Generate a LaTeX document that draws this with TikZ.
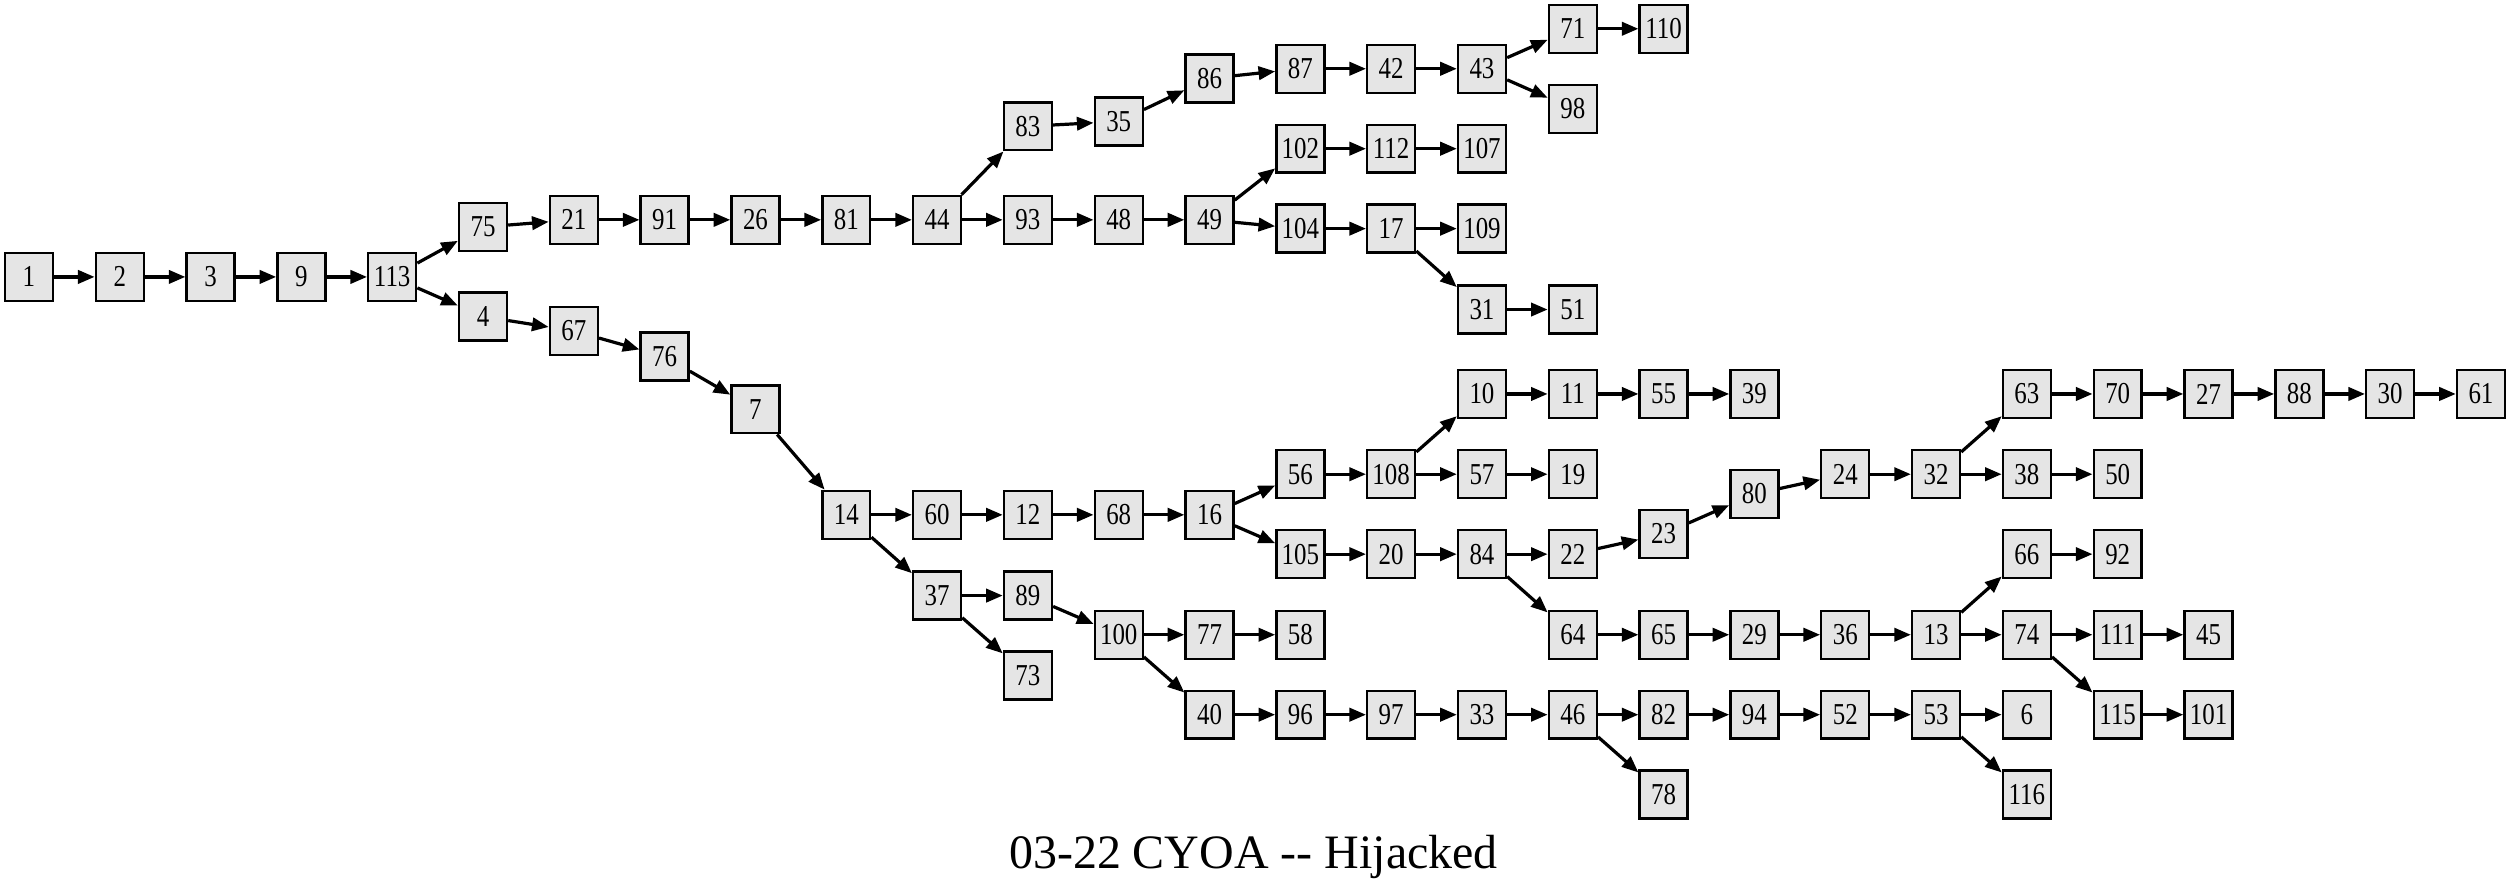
\documentclass[tikz,border=0pt]{standalone}
\usepackage{fontspec}
\setmainfont{Liberation Serif}
\newfontfamily\pagefont{Liberation Serif}[FakeStretch=0.82]
\usetikzlibrary{arrows.meta}
\definecolor{pagegray}{gray}{0.9}
\tikzset{
  cyoa/.style={draw, fill=pagegray, line width=1.5pt, minimum width=30pt, minimum height=30pt, inner sep=0pt, font=\pagefont\fontsize{19}{19}\selectfont},
  link/.style={line width=2pt, -{Triangle[length=10.4pt,width=8.3pt]}}
}
\begin{document}
\begin{tikzpicture}[x=1pt,y=1pt,yscale=-1,xscale=1]
    \useasboundingbox (0,0) rectangle (1568,556);
    
    %Pages: first chain
    \node[cyoa] (p1) at (18.1,173.2) {1};
    \node[cyoa] (p2) at (74.9,173.2) {2};
    \node[cyoa] (p3) at (131.7,173.2) {3};
    \node[cyoa] (p9) at (188.5,173.2) {9};
    \node[cyoa] (p113) at (245.3,173.2) {113};
    \node[cyoa] (p75) at (302.1,142) {75};
    \node[cyoa] (p4) at (302.1,198) {4};
    \node[cyoa] (p21) at (358.9,137.5) {21};
    \node[cyoa] (p67) at (358.9,207) {67};
    \node[cyoa] (p91) at (415.7,137.5) {91};
    \node[cyoa] (p76) at (415.7,223) {76};
    \node[cyoa] (p26) at (472.5,137.5) {26};
    \node[cyoa] (p7) at (472.5,256) {7};
    \node[cyoa] (p81) at (529.3,137.5) {81};
    \node[cyoa] (p14) at (529.3,322) {14};
    \node[cyoa] (p44) at (586.1,137.5) {44};
    \node[cyoa] (p60) at (586.1,322) {60};
    \node[cyoa] (p37) at (586.1,372.5) {37};
    %Pages: upper branch
    \node[cyoa] (p83) at (642.9,79) {83};
    \node[cyoa] (p93) at (642.9,137.5) {93};
    \node[cyoa] (p35) at (699.7,76) {35};
    \node[cyoa] (p48) at (699.7,137.5) {48};
    \node[cyoa] (p86) at (756.5,49) {86};
    \node[cyoa] (p49) at (756.5,137.5) {49};
    \node[cyoa] (p87) at (813.3,43) {87};
    \node[cyoa] (p102) at (813.3,93) {102};
    \node[cyoa] (p104) at (813.3,143) {104};
    \node[cyoa] (p42) at (870.1,43) {42};
    \node[cyoa] (p112) at (870.1,93) {112};
    \node[cyoa] (p17) at (870.1,143) {17};
    \node[cyoa] (p43) at (926.9,43) {43};
    \node[cyoa] (p107) at (926.9,93) {107};
    \node[cyoa] (p109) at (926.9,143) {109};
    \node[cyoa] (p31) at (926.9,193.6) {31};
    \node[cyoa] (p71) at (983.7,18) {71};
    \node[cyoa] (p98) at (983.7,68) {98};
    \node[cyoa] (p51) at (983.7,193.6) {51};
    \node[cyoa] (p110) at (1040.5,18) {110};
    %Pages: lower branch
    \node[cyoa] (p12) at (642.9,322) {12};
    \node[cyoa] (p89) at (642.9,372.5) {89};
    \node[cyoa] (p73) at (642.9,422.5) {73};
    \node[cyoa] (p68) at (699.7,322) {68};
    \node[cyoa] (p100) at (699.7,397) {100};
    \node[cyoa] (p16) at (756.5,322) {16};
    \node[cyoa] (p77) at (756.5,397) {77};
    \node[cyoa] (p40) at (756.5,447) {40};
    \node[cyoa] (p56) at (813.3,296.6) {56};
    \node[cyoa] (p105) at (813.3,346.6) {105};
    \node[cyoa] (p58) at (813.3,397) {58};
    \node[cyoa] (p96) at (813.3,447) {96};
    \node[cyoa] (p108) at (870.1,296.6) {108};
    \node[cyoa] (p20) at (870.1,346.6) {20};
    \node[cyoa] (p97) at (870.1,447) {97};
    \node[cyoa] (p10) at (926.9,246.4) {10};
    \node[cyoa] (p57) at (926.9,296.6) {57};
    \node[cyoa] (p84) at (926.9,346.6) {84};
    \node[cyoa] (p33) at (926.9,447) {33};
    \node[cyoa] (p11) at (983.7,246.4) {11};
    \node[cyoa] (p19) at (983.7,296.6) {19};
    \node[cyoa] (p22) at (983.7,346.6) {22};
    \node[cyoa] (p64) at (983.7,397) {64};
    \node[cyoa] (p46) at (983.7,447) {46};
    \node[cyoa] (p55) at (1040.5,246.4) {55};
    \node[cyoa] (p23) at (1040.5,334) {23};
    \node[cyoa] (p65) at (1040.5,397) {65};
    \node[cyoa] (p82) at (1040.5,447) {82};
    \node[cyoa] (p78) at (1040.5,497) {78};
    \node[cyoa] (p39) at (1097.3,246.4) {39};
    \node[cyoa] (p80) at (1097.3,309) {80};
    \node[cyoa] (p29) at (1097.3,397) {29};
    \node[cyoa] (p94) at (1097.3,447) {94};
    \node[cyoa] (p24) at (1154.1,296.6) {24};
    \node[cyoa] (p36) at (1154.1,397) {36};
    \node[cyoa] (p52) at (1154.1,447) {52};
    \node[cyoa] (p32) at (1210.9,296.6) {32};
    \node[cyoa] (p13) at (1210.9,397) {13};
    \node[cyoa] (p53) at (1210.9,447) {53};
    \node[cyoa] (p63) at (1267.7,246.4) {63};
    \node[cyoa] (p38) at (1267.7,296.6) {38};
    \node[cyoa] (p66) at (1267.7,346.6) {66};
    \node[cyoa] (p74) at (1267.7,397) {74};
    \node[cyoa] (p6) at (1267.7,447) {6};
    \node[cyoa] (p116) at (1267.7,497) {116};
    \node[cyoa] (p70) at (1324.5,246.4) {70};
    \node[cyoa] (p50) at (1324.5,296.6) {50};
    \node[cyoa] (p92) at (1324.5,346.6) {92};
    \node[cyoa] (p111) at (1324.5,397) {111};
    \node[cyoa] (p115) at (1324.5,447) {115};
    \node[cyoa] (p27) at (1381.3,246.4) {27};
    \node[cyoa] (p45) at (1381.3,397) {45};
    \node[cyoa] (p101) at (1381.3,447) {101};
    \node[cyoa] (p88) at (1438.1,246.4) {88};
    \node[cyoa] (p30) at (1494.9,246.4) {30};
    \node[cyoa] (p61) at (1551.7,246.4) {61};
    
    %Links
    \draw[link] (p1) -- (p2); \draw[link] (p2) -- (p3); \draw[link] (p3) -- (p9);
    \draw[link] (p9) -- (p113); \draw[link] (p113) -- (p75); \draw[link] (p113) -- (p4);
    \draw[link] (p75) -- (p21); \draw[link] (p21) -- (p91); \draw[link] (p91) -- (p26);
    \draw[link] (p26) -- (p81); \draw[link] (p81) -- (p44); \draw[link] (p44) -- (p83);
    \draw[link] (p44) -- (p93); \draw[link] (p83) -- (p35); \draw[link] (p35) -- (p86);
    \draw[link] (p86) -- (p87); \draw[link] (p87) -- (p42); \draw[link] (p42) -- (p43);
    \draw[link] (p43) -- (p71); \draw[link] (p43) -- (p98); \draw[link] (p71) -- (p110);
    \draw[link] (p93) -- (p48); \draw[link] (p48) -- (p49); \draw[link] (p49) -- (p102);
    \draw[link] (p49) -- (p104); \draw[link] (p102) -- (p112); \draw[link] (p112) -- (p107);
    \draw[link] (p104) -- (p17); \draw[link] (p17) -- (p109); \draw[link] (p17) -- (p31);
    \draw[link] (p31) -- (p51);
    \draw[link] (p4) -- (p67); \draw[link] (p67) -- (p76); \draw[link] (p76) -- (p7);
    \draw[link] (p7) -- (p14); \draw[link] (p14) -- (p60); \draw[link] (p14) -- (p37);
    \draw[link] (p60) -- (p12); \draw[link] (p12) -- (p68); \draw[link] (p68) -- (p16);
    \draw[link] (p16) -- (p56); \draw[link] (p16) -- (p105); \draw[link] (p56) -- (p108);
    \draw[link] (p108) -- (p10); \draw[link] (p108) -- (p57); \draw[link] (p10) -- (p11);
    \draw[link] (p11) -- (p55); \draw[link] (p55) -- (p39); \draw[link] (p57) -- (p19);
    \draw[link] (p105) -- (p20); \draw[link] (p20) -- (p84); \draw[link] (p84) -- (p22);
    \draw[link] (p84) -- (p64); \draw[link] (p22) -- (p23); \draw[link] (p23) -- (p80);
    \draw[link] (p80) -- (p24); \draw[link] (p24) -- (p32); \draw[link] (p32) -- (p63);
    \draw[link] (p32) -- (p38); \draw[link] (p63) -- (p70); \draw[link] (p70) -- (p27);
    \draw[link] (p27) -- (p88); \draw[link] (p88) -- (p30); \draw[link] (p30) -- (p61);
    \draw[link] (p38) -- (p50);
    \draw[link] (p64) -- (p65); \draw[link] (p65) -- (p29); \draw[link] (p29) -- (p36);
    \draw[link] (p36) -- (p13); \draw[link] (p13) -- (p66); \draw[link] (p13) -- (p74);
    \draw[link] (p66) -- (p92); \draw[link] (p74) -- (p111); \draw[link] (p74) -- (p115);
    \draw[link] (p111) -- (p45); \draw[link] (p115) -- (p101);
    \draw[link] (p37) -- (p89); \draw[link] (p37) -- (p73); \draw[link] (p89) -- (p100);
    \draw[link] (p100) -- (p77); \draw[link] (p100) -- (p40); \draw[link] (p77) -- (p58);
    \draw[link] (p40) -- (p96); \draw[link] (p96) -- (p97); \draw[link] (p97) -- (p33);
    \draw[link] (p33) -- (p46); \draw[link] (p46) -- (p82); \draw[link] (p46) -- (p78);
    \draw[link] (p82) -- (p94); \draw[link] (p94) -- (p52); \draw[link] (p52) -- (p53);
    \draw[link] (p53) -- (p6); \draw[link] (p53) -- (p116);
    
    %Title
    \node[font=\fontsize{30}{30}\selectfont, anchor=base] (title) at (784,543) {03-22 CYOA -{}- Hijacked};
    
\end{tikzpicture}
\end{document}
